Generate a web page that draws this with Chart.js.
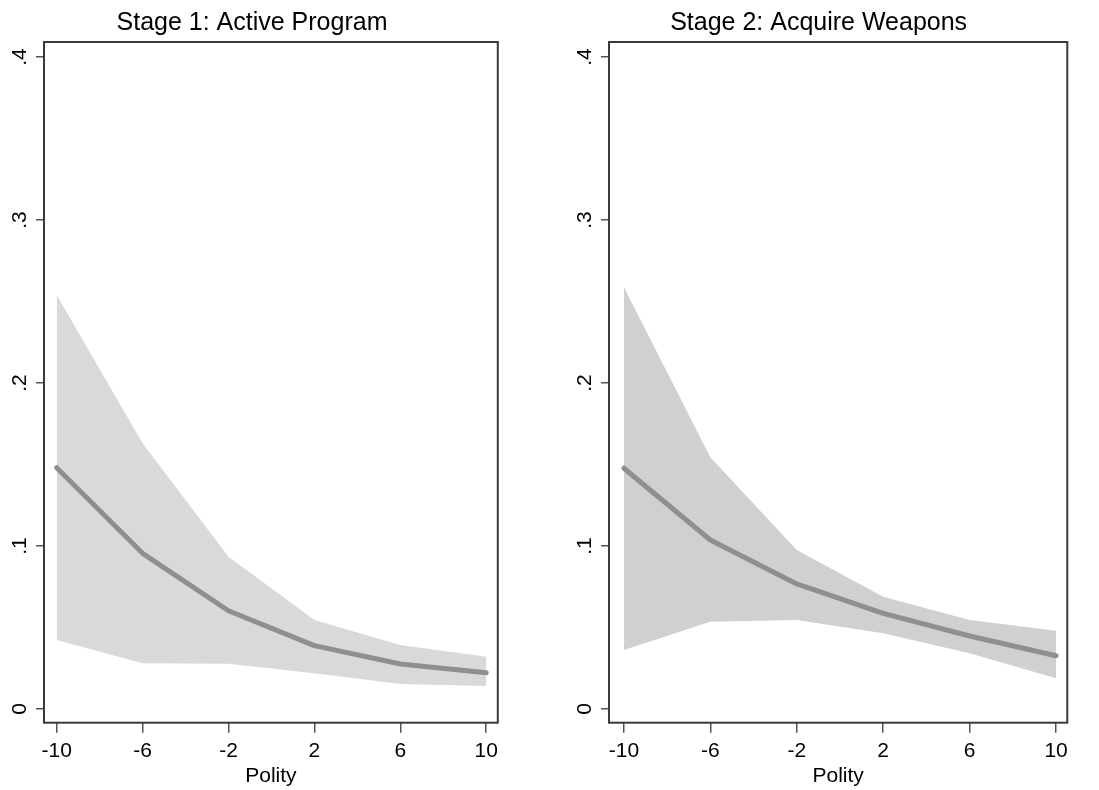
<!DOCTYPE html>
<html>
<head>
<meta charset="utf-8">
<script src="https://cdn.jsdelivr.net/npm/chart.js@4.4.1/dist/chart.umd.min.js"></script>
<style>
  html, body { margin: 0; padding: 0; background: #fff; }
  .panel { position: absolute; top: 0; height: 790px; }
  #left { left: 5px; width: 499px; }
  #right { left: 570px; width: 529px; }
</style>
</head>
<body>
<div class="panel" id="left"><canvas id="stage1"></canvas></div>
<div class="panel" id="right"><canvas id="stage2"></canvas></div>
<script>
// Predicted probability by Polity score, with confidence band
const polity = [-10, -6, -2, 2, 6, 10];
const xTicks = [-10, -6, -2, 2, 6, 10];
const yTicks = [0, 0.1, 0.2, 0.3, 0.4];
const yTickLabels = ['0', '.1', '.2', '.3', '.4'];

const stage1Mean  = [0.148, 0.0955, 0.0603, 0.0389, 0.0276, 0.0223];
const stage1Upper = [0.254, 0.163, 0.0934, 0.0546, 0.0393, 0.0321];
const stage1Lower = [0.0423, 0.028, 0.0277, 0.0219, 0.0153, 0.0141];

const stage2Mean  = [0.1477, 0.1037, 0.0767, 0.0587, 0.0448, 0.0327];
const stage2Upper = [0.2587, 0.1545, 0.0975, 0.0689, 0.0546, 0.048];
const stage2Lower = [0.0362, 0.0536, 0.0546, 0.0464, 0.0342, 0.0188];

const FONT = "'Liberation Sans', Arial, sans-serif";

// box round the plot region
const frame = {
  id: 'frame',
  afterDatasetsDraw(chart) {
    const { ctx, chartArea: a } = chart;
    ctx.save();
    ctx.strokeStyle = '#3a3a3a';
    ctx.lineWidth = 2;
    ctx.strokeRect(a.left, a.top, a.right - a.left, a.bottom - a.top);
    ctx.restore();
  }
};

const toPoints = arr => polity.map((x, i) => ({ x, y: arr[i] }));

function makeChart(id, title, mean, upper, lower, bandColor, opt) {
  const ctx = document.getElementById(id).getContext('2d');
  return new Chart(ctx, {
    type: 'line',
    data: {
      datasets: [
        {
          label: 'Predicted',
          data: toPoints(mean),
          borderColor: '#8f8f8f',
          borderWidth: 5,
          borderCapStyle: 'round',
          borderJoinStyle: 'round',
          pointRadius: 0,
          fill: false,
          tension: 0
        },
        {
          label: 'Upper',
          data: toPoints(upper),
          borderColor: 'rgba(0,0,0,0)',
          borderWidth: 0,
          backgroundColor: bandColor,
          pointRadius: 0,
          fill: '+1',
          tension: 0
        },
        {
          label: 'Lower',
          data: toPoints(lower),
          borderColor: 'rgba(0,0,0,0)',
          borderWidth: 0,
          pointRadius: 0,
          fill: false,
          tension: 0
        }
      ]
    },
    options: {
      responsive: true,
      maintainAspectRatio: false,
      animation: false,
      layout: { padding: { left: 0, right: opt.padRight, top: 0, bottom: 0 } },
      scales: {
        x: {
          type: 'linear',
          min: opt.xMin,
          max: opt.xMax,
          afterBuildTicks: s => { s.ticks = xTicks.map(v => ({ value: v })); },
          afterFit: s => { s.height = 67.3; },
          ticks: {
            color: '#000',
            font: { family: FONT, size: 21 },
            padding: 6,
            autoSkip: false,
            maxRotation: 0,
            callback: v => String(v)
          },
          grid: { drawOnChartArea: false, drawTicks: true, tickLength: 10, color: '#555', lineWidth: 1.5 },
          border: { display: false },
          title: {
            display: true,
            text: 'Polity',
            color: '#000',
            font: { family: FONT, size: 21 },
            padding: { top: 0, bottom: 1 }
          }
        },
        y: {
          type: 'linear',
          min: -0.0084,
          max: 0.4092,
          afterBuildTicks: s => { s.ticks = yTicks.map(v => ({ value: v })); },
          afterFit: s => { s.width = opt.yWidth; },
          ticks: {
            color: '#000',
            font: { family: FONT, size: 21 },
            minRotation: 90,
            maxRotation: 90,
            crossAlign: 'center',
            padding: 7,
            autoSkip: false,
            callback: (v, i) => yTickLabels[i]
          },
          grid: { drawOnChartArea: false, drawTicks: true, tickLength: 8, color: '#555', lineWidth: 1.5 },
          border: { display: false }
        }
      },
      plugins: {
        legend: { display: false },
        tooltip: { enabled: false },
        title: {
          display: true,
          text: title,
          color: '#000',
          font: { family: FONT, size: 25, weight: 'normal' },
          padding: { top: 8, bottom: 4 }
        }
      }
    },
    plugins: [frame]
  });
}

makeChart('stage1', 'Stage 1: Active Program', stage1Mean, stage1Upper, stage1Lower,
  'rgb(217,217,217)', { xMin: -10.59, xMax: 10.54, yWidth: 39, padRight: 5 });
makeChart('stage2', 'Stage 2: Acquire Weapons', stage2Mean, stage2Upper, stage2Lower,
  'rgb(208,208,208)', { xMin: -10.69, xMax: 10.52, yWidth: 39, padRight: 31.7 });
</script>
</body>
</html>
